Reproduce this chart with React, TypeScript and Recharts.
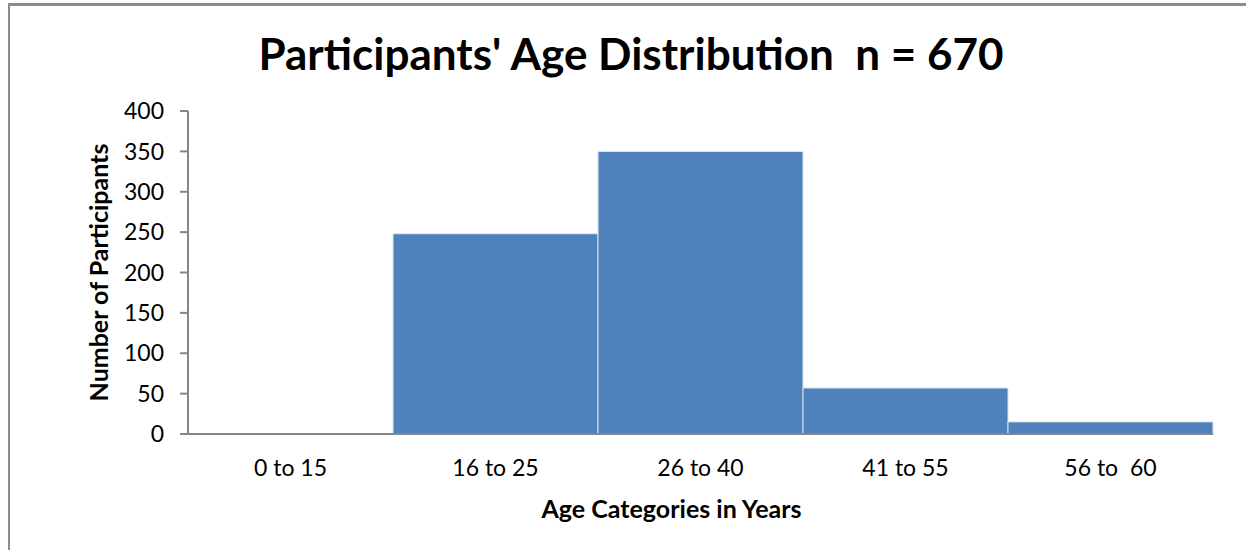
import { BarChart, Bar, XAxis, YAxis } from 'recharts';

const categories = ['0 to 15', '16 to 25', '26 to 40', '41 to 55', '56 to  60'];
const participants = [0, 248, 350, 57, 15];
const yTicks = [0, 50, 100, 150, 200, 250, 300, 350, 400];

const data = categories.map((name, i) => ({ name, value: participants[i] }));

const FONT = 'Lato, "Open Sans", sans-serif';

// svg collapses runs of spaces, keep the double space in "56 to  60"
const keepSpaces = (s: string) => s.replace(/  /g, ' \u00a0');

export default function App() {
  return (
    <div style={{ position: 'absolute', left: 0, top: 0, width: 1246, height: 550, background: '#fff', fontFamily: FONT }}>
      <div
        style={{
          position: 'absolute',
          left: 8,
          top: 3,
          width: 1300,
          height: 600,
          borderTop: '3px solid #8c8c8c',
          borderLeft: '2px solid #8c8c8c',
        }}
      />
      <div
        style={{
          position: 'absolute',
          left: 8,
          top: 27,
          width: 1246,
          textAlign: 'center',
          fontSize: 44,
          fontWeight: 700,
          color: '#000',
          whiteSpace: 'pre',
        }}
      >
        {"Participants' Age Distribution  n = 670"}
      </div>
      <BarChart
        width={1246}
        height={550}
        data={data}
        margin={{ top: 111, right: 33, bottom: 36, left: 128 }}
        barCategoryGap={0}
        style={{ position: 'absolute', left: 0, top: 0 }}
      >
        <XAxis
          dataKey="name"
          height={80}
          axisLine={{ stroke: '#868686', strokeWidth: 2 }}
          tickLine={false}
          tickSize={0}
          tickMargin={26}
          tickFormatter={keepSpaces}
          tick={{ fill: '#000', fontSize: 23, fontFamily: FONT }}
          label={{
            value: 'Age Categories in Years',
            position: 'center',
            dx: -29,
            dy: 35,
            fill: '#000',
            fontSize: 25,
            fontWeight: 700,
            fontFamily: FONT,
          }}
        />
        <YAxis
          width={60}
          domain={[0, 400]}
          ticks={yTicks}
          interval={0}
          axisLine={{ stroke: '#868686', strokeWidth: 2 }}
          tickLine={{ stroke: '#868686', strokeWidth: 2 }}
          tickSize={8}
          tickMargin={16}
          tick={{ fill: '#000', fontSize: 23, fontFamily: FONT }}
          label={{
            value: 'Number of Participants',
            angle: -90,
            position: 'center',
            dx: -59,
            fill: '#000',
            fontSize: 25,
            fontWeight: 700,
            fontFamily: FONT,
          }}
        />
        <Bar dataKey="value" fill="#4F81BD" stroke="#dbe5f1" strokeWidth={1} isAnimationActive={false} />
      </BarChart>
    </div>
  );
}
